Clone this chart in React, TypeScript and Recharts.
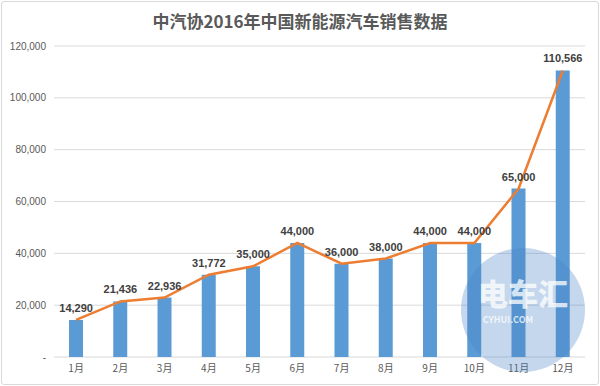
import React from 'react'
import { Bar, CartesianGrid, ComposedChart, LabelList, Line, XAxis, YAxis } from 'recharts'

const months: string[] = ['1月', '2月', '3月', '4月', '5月', '6月', '7月', '8月', '9月', '10月', '11月', '12月']
const sales: number[] = [14290, 21436, 22936, 31772, 35000, 44000, 36000, 38000, 44000, 44000, 65000, 110566]
const yTicks: number[] = [0, 20000, 40000, 60000, 80000, 100000, 120000]

const chartData = months.map((m, i) => ({ month: m, sales: sales[i] }))

const fmt = (v: number) => (v === 0 ? '-' : v.toLocaleString('en-US'))

const App = () => {
    return (
        <div style={{ position: 'absolute', left: 0, top: 0, width: 600, height: 386, background: '#fff', overflow: 'hidden' }}>
            <div style={{ position: 'absolute', inset: 1, border: '1px solid #d9d9d9', borderRadius: 3 }} />
            <div
                style={{
                    position: 'absolute',
                    top: 8,
                    left: 0,
                    width: 600,
                    textAlign: 'center',
                    fontFamily: '"Noto Sans CJK SC", sans-serif',
                    fontWeight: 700,
                    fontSize: 17,
                    color: '#595959',
                }}
            >
                中汽协2016年中国新能源汽车销售数据
            </div>
            <ComposedChart
                width={600}
                height={386}
                data={chartData}
                margin={{ top: 46, right: 15, left: 4, bottom: 7 }}
                style={{ fontFamily: '"Liberation Sans", sans-serif' }}
            >
                <CartesianGrid vertical={false} stroke="#d9d9d9" />
                <XAxis
                    dataKey="month"
                    tickLine={false}
                    axisLine={false}
                    height={22}
                    fontSize={10}
                    tick={{ fill: '#595959', fontFamily: '"Noto Sans CJK SC", sans-serif' }}
                />
                <YAxis
                    domain={[0, 120000]}
                    ticks={yTicks}
                    tickLine={false}
                    axisLine={false}
                    width={50}
                    fontSize={10}
                    tick={{ fill: '#595959' }}
                    tickFormatter={fmt}
                />
                <Bar dataKey="sales" fill="#5b9bd5" barSize={14} isAnimationActive={false} />
                <Line
                    type="linear"
                    dataKey="sales"
                    stroke="#ed7d31"
                    strokeWidth={2.5}
                    dot={false}
                    isAnimationActive={false}
                >
                    <LabelList
                        dataKey="sales"
                        position="top"
                        offset={8}
                        formatter={(v: number) => fmt(v)}
                        style={{ fontSize: 11, fontWeight: 700, fill: '#404040' }}
                    />
                </Line>
            </ComposedChart>
            {/* watermark */}
            <div
                style={{
                    position: 'absolute',
                    left: 461,
                    top: 248,
                    width: 124,
                    height: 124,
                    borderRadius: '50%',
                    background: 'rgba(70, 130, 195, 0.32)',
                    pointerEvents: 'none',
                    color: 'rgba(255,255,255,0.75)',
                    textAlign: 'center',
                    fontFamily: '"Noto Sans CJK SC", sans-serif',
                }}
            >
                <div style={{ fontSize: 30, fontWeight: 900, marginTop: 26, lineHeight: '36px' }}>电车汇</div>
                <div style={{ fontSize: 9, fontWeight: 700, lineHeight: '12px', marginTop: 4, marginLeft: -30 }}>CYHUI.COM</div>
            </div>
        </div>
    )
}

export default App
